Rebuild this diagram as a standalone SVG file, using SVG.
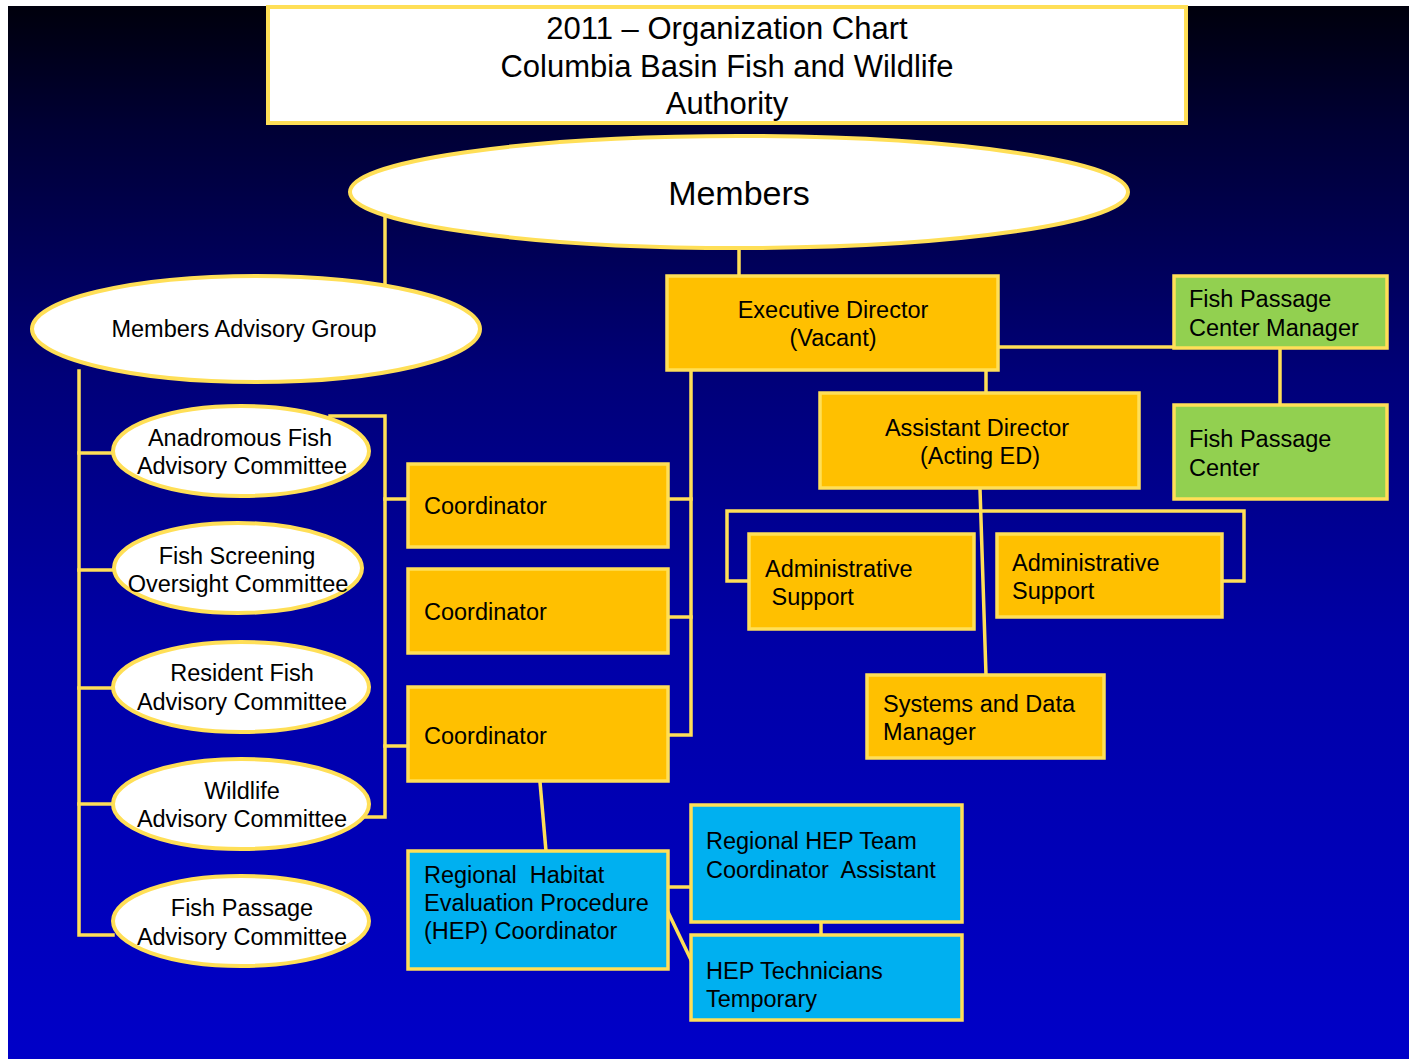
<svg xmlns="http://www.w3.org/2000/svg" width="1409" height="1059" viewBox="0 0 1409 1059">
<defs>
<linearGradient id="bg" x1="0" y1="0" x2="0" y2="1">
<stop offset="0" stop-color="#00000c"/>
<stop offset="0.12" stop-color="#000036"/>
<stop offset="0.35" stop-color="#000078"/>
<stop offset="0.6" stop-color="#0000a6"/>
<stop offset="1" stop-color="#0000c8"/>
</linearGradient>
<style>
.ln{stroke:#ffdf57;stroke-width:3.5;fill:none;stroke-linecap:square}
.el{fill:#ffffff;stroke:#ffdf57;stroke-width:4}
.or{fill:#ffc000;stroke:#ffdf57;stroke-width:3.5}
.gr{fill:#92d050;stroke:#ffdf57;stroke-width:3.5}
.cy{fill:#00b0f0;stroke:#ffdf57;stroke-width:3.5}
.wt{fill:#ffffff;stroke:#ffdf57;stroke-width:4}
text{font-family:"Liberation Sans",Arial,sans-serif;font-size:23.5px;fill:#000000}
.c{text-anchor:middle}
.t{font-size:31px}
.m{font-size:34px}
</style>
</defs>
<rect x="0" y="0" width="1409" height="1059" fill="#ffffff"/>
<rect x="8" y="6" width="1401" height="1053" fill="url(#bg)"/>

<g id="connectors">
<line class="ln" x1="385" y1="217" x2="385" y2="283"/>
<line class="ln" x1="739" y1="250" x2="739" y2="276"/>
<line class="ln" x1="998" y1="347" x2="1174" y2="347"/>
<line class="ln" x1="1280" y1="349" x2="1280" y2="405"/>
<line class="ln" x1="986" y1="371" x2="986" y2="393"/>
<line class="ln" x1="980" y1="489" x2="986" y2="675"/>
<polyline class="ln" points="749,581 727,581 727,511 1244,511 1244,581 1222,581"/>
<polyline class="ln" points="79,371 79,935 113,935"/>
<line class="ln" x1="79" y1="453" x2="113" y2="453"/>
<line class="ln" x1="79" y1="570" x2="114" y2="570"/>
<line class="ln" x1="79" y1="688" x2="113" y2="688"/>
<line class="ln" x1="79" y1="804" x2="113" y2="804"/>
<polyline class="ln" points="330,416 385,416 385,817 366,817"/>
<line class="ln" x1="385" y1="499" x2="408" y2="499"/>
<line class="ln" x1="385" y1="746" x2="408" y2="746"/>
<polyline class="ln" points="691,371 691,735 668,735"/>
<line class="ln" x1="668" y1="499" x2="691" y2="499"/>
<line class="ln" x1="668" y1="617" x2="691" y2="617"/>
<line class="ln" x1="540" y1="782" x2="546" y2="851"/>
<line class="ln" x1="668" y1="887" x2="691" y2="887"/>
<line class="ln" x1="668" y1="912" x2="691" y2="960"/>
<line class="ln" x1="821" y1="922" x2="821" y2="935"/>
</g>

<g id="title">
<rect class="wt" x="268" y="7" width="918" height="116"/>
<text class="c t" x="727" y="39">2011 – Organization Chart</text>
<text class="c t" x="727" y="77">Columbia Basin Fish and Wildlife</text>
<text class="c t" x="727" y="114">Authority</text>
</g>

<g id="members">
<ellipse class="el" cx="739" cy="192" rx="389" ry="56"/>
<text class="c m" x="739" y="205">Members</text>
</g>

<g id="mag">
<ellipse class="el" cx="256" cy="329" rx="224" ry="53"/>
<text class="c" x="244" y="337">Members Advisory Group</text>
</g>

<g id="anadromous">
<ellipse class="el" cx="241" cy="451" rx="128" ry="45"/>
<text class="c" x="240" y="446">Anadromous Fish</text>
<text class="c" x="242" y="474">Advisory Committee</text>
</g>

<g id="screening">
<ellipse class="el" cx="238" cy="568" rx="124" ry="45"/>
<text class="c" x="237" y="564">Fish Screening</text>
<text class="c" x="238" y="592">Oversight Committee</text>
</g>

<g id="resident">
<ellipse class="el" cx="241" cy="687" rx="128" ry="45"/>
<text class="c" x="242" y="681">Resident Fish</text>
<text class="c" x="242" y="710">Advisory Committee</text>
</g>

<g id="wildlife">
<ellipse class="el" cx="241" cy="804" rx="128" ry="45"/>
<text class="c" x="242" y="799">Wildlife</text>
<text class="c" x="242" y="827">Advisory Committee</text>
</g>

<g id="fishpassage">
<ellipse class="el" cx="241" cy="921" rx="128" ry="45"/>
<text class="c" x="242" y="916">Fish Passage</text>
<text class="c" x="242" y="945">Advisory Committee</text>
</g>

<g id="coord1">
<rect class="or" x="408" y="464" width="260" height="83"/>
<text x="424" y="514">Coordinator</text>
</g>
<g id="coord2">
<rect class="or" x="408" y="569" width="260" height="84"/>
<text x="424" y="620">Coordinator</text>
</g>
<g id="coord3">
<rect class="or" x="408" y="687" width="260" height="94"/>
<text x="424" y="744">Coordinator</text>
</g>

<g id="ed">
<rect class="or" x="667" y="276" width="331" height="94"/>
<text class="c" x="833" y="318">Executive Director</text>
<text class="c" x="833" y="346">(Vacant)</text>
</g>

<g id="fpcm">
<rect class="gr" x="1174" y="276" width="213" height="72"/>
<text x="1189" y="307">Fish Passage</text>
<text x="1189" y="336">Center Manager</text>
</g>

<g id="fpc">
<rect class="gr" x="1174" y="405" width="213" height="94"/>
<text x="1189" y="447">Fish Passage</text>
<text x="1189" y="476">Center</text>
</g>

<g id="ad">
<rect class="or" x="820" y="393" width="319" height="95"/>
<text class="c" x="977" y="436">Assistant Director</text>
<text class="c" x="980" y="464">(Acting ED)</text>
</g>

<g id="admin1">
<rect class="or" x="749" y="534" width="225" height="95"/>
<text x="765" y="577">Administrative</text>
<text x="765" y="605" xml:space="preserve"> Support</text>
</g>

<g id="admin2">
<rect class="or" x="997" y="534" width="225" height="83"/>
<text x="1012" y="571">Administrative</text>
<text x="1012" y="599">Support</text>
</g>

<g id="sdm">
<rect class="or" x="867" y="675" width="237" height="83"/>
<text x="883" y="712">Systems and Data</text>
<text x="883" y="740">Manager</text>
</g>

<g id="hepcoord">
<rect class="cy" x="408" y="851" width="260" height="118"/>
<text x="424" y="883" xml:space="preserve">Regional  Habitat</text>
<text x="424" y="911">Evaluation Procedure</text>
<text x="424" y="939">(HEP) Coordinator</text>
</g>

<g id="hepteam">
<rect class="cy" x="691" y="805" width="271" height="117"/>
<text x="706" y="849">Regional HEP Team</text>
<text x="706" y="878" xml:space="preserve">Coordinator  Assistant</text>
</g>

<g id="heptech">
<rect class="cy" x="691" y="935" width="271" height="85"/>
<text x="706" y="979">HEP Technicians</text>
<text x="706" y="1007">Temporary</text>
</g>
</svg>
